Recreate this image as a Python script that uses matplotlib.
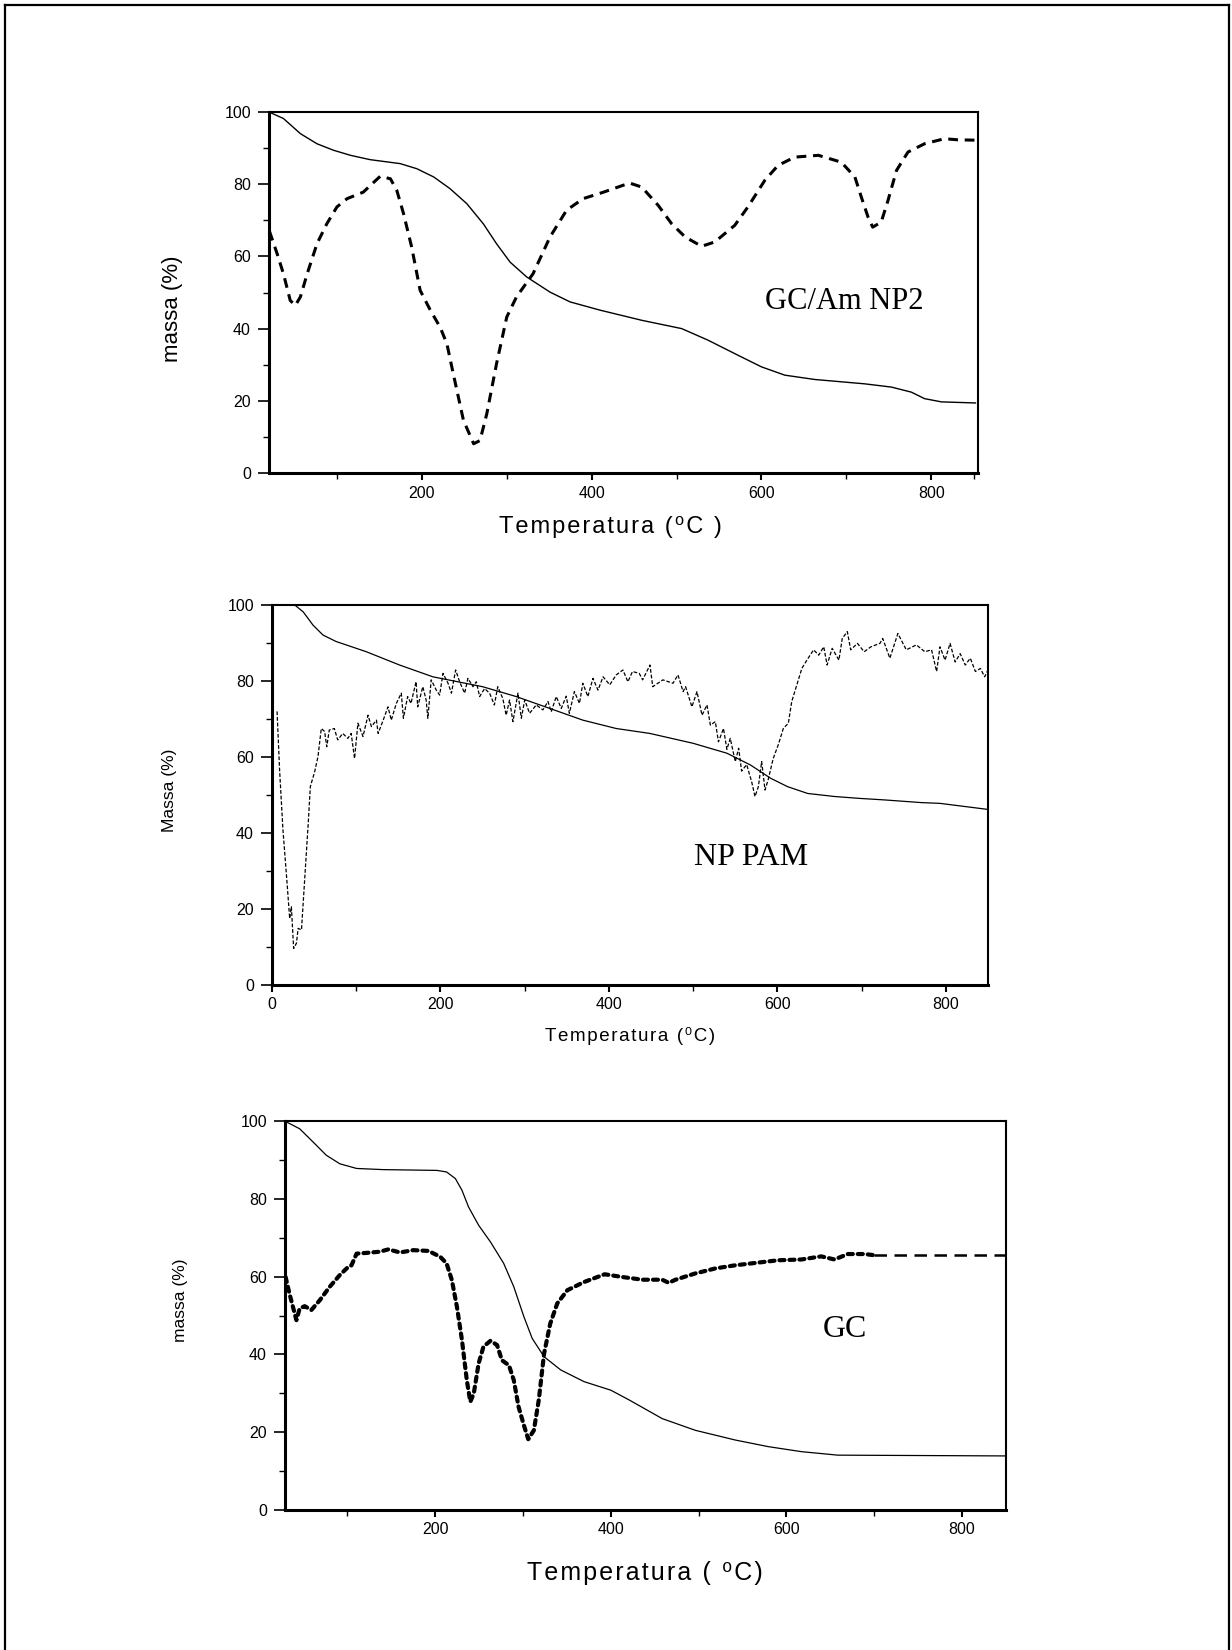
import matplotlib
matplotlib.use("Agg")
import matplotlib.pyplot as plt
from matplotlib.lines import Line2D
from matplotlib.ticker import MultipleLocator, FixedLocator

# ---------------- data ----------------
# Panel 1: GC/Am NP2
np2_tg_x = [20, 37, 57, 76.5, 96, 116, 139, 174.5, 194, 214, 233, 253, 272.5, 288, 304, 323.5, 351,
            374.5, 410, 459, 506, 537, 572.5, 600, 627.5, 663, 721.5, 753, 776.5, 792, 812, 852]
np2_tg_y = [100, 98.2, 94, 91.2, 89.4, 88, 86.8, 85.7, 84.3, 82, 78.8, 74.6, 69, 63.5, 58.4, 54.3, 50.1,
            47.4, 45.1, 42.3, 40, 36.8, 32.6, 29.4, 27.1, 25.9, 24.7, 23.8, 22.4, 20.6, 19.7, 19.4]
np2_dtg_x = [20.5, 29.5, 37, 45, 51, 57, 65, 76.5, 88, 100, 112, 131, 151, 163, 170.5, 178.5, 188, 198,
             210, 221.5, 229.5, 237, 249, 261, 268.5, 276.5, 288, 300, 311.5, 331, 351, 370.5, 390, 414,
             437, 445, 459, 478.5, 494, 510, 529.5, 545, 568.5, 584, 604, 619.5, 639, 667, 694, 710,
             717.5, 725.5, 731, 741, 749, 759, 772.5, 792, 815.5, 831, 851]
np2_dtg_y = [67, 60.8, 55.2, 47.8, 46.4, 48.8, 55.2, 63.5, 69, 73.7, 76, 77.8, 82.2, 81.5, 78.3, 71.8, 62.6,
             50.6, 45.1, 40.4, 35.8, 27.5, 14.6, 8.1, 9, 16.4, 30.3, 43.2, 48.8, 55.2, 65.4, 72.8, 76,
             77.8, 79.7, 80.3, 79.2, 74.1, 69.1, 65.4, 62.8, 64, 68.6, 73.7, 81.1, 85.2, 87.5, 88, 86.1,
             82, 76.5, 70.9, 68.1, 69.5, 75.5, 83.8, 88.9, 91.2, 92.6, 92.3, 92.2]

# Panel 2: NP PAM
pam_tg_x = [0, 27, 37, 48.7, 60.5, 76, 112, 151.5, 191, 250, 290, 329.5, 369, 408.6, 448.6, 500, 540,
            568, 592, 612, 636, 668, 698, 727.5, 771, 793, 850]
pam_tg_y = [100, 100, 98.2, 94.7, 92.1, 90.4, 87.7, 84.2, 81.1, 78.5, 75.9, 72.8, 69.7, 67.5, 66.2, 63.6,
            61, 57.9, 54.4, 52.2, 50.4, 49.6, 49.1, 48.7, 48, 47.8, 46.2]
pam_dtg_x = [6, 9, 13, 17, 21, 23, 25.7, 29, 31, 35, 39, 43, 45.5, 50.6, 54.6, 58.5, 62.5, 65, 68, 74,
             78, 84, 90, 94, 98, 102, 108, 114, 118, 124, 126, 132, 137.7, 141.6, 147.6, 153.5, 156,
             161, 165, 171, 173, 179, 183, 185, 189, 195, 199, 203, 209, 213, 218, 222.7, 228.7, 232.6,
             238.5, 242.5, 246.5, 252.4, 258.3, 264, 268, 274, 278, 282, 286, 292, 296, 300, 305.8,
             313.7, 321.6, 327.6, 331.5, 337.4, 343.4, 349.3, 353, 359, 365, 369, 375, 381, 387, 393,
             401, 408.6, 416.6, 422.5, 428, 436, 440, 448.7, 452, 464, 476, 482, 488, 491, 498.5,
             504.5, 510.5, 516.4, 520.4, 526.3, 530, 536, 540, 544, 550, 554, 557.5, 563.5, 569.4,
             573.4, 577.4, 581.3, 585.3, 589, 595, 601, 607, 613, 617, 623, 629, 635, 643, 649, 655,
             659, 665, 673, 677, 683, 687, 695, 703, 711, 721.7, 725, 733.5, 743, 753, 765, 775, 783,
             789, 793, 799, 805, 811, 817, 823, 829, 835, 841, 846, 850]
pam_dtg_y = [72, 56.6, 40.8, 29.4, 17.5, 20.6, 9.6, 11, 14.9, 14.5, 28.5, 42.5, 52.2, 56.1, 60.1, 67.5,
             66.7, 62.7, 67.1, 67.5, 64.5, 66.2, 64.9, 66.2, 59.6, 68.9, 65.4, 71, 68, 69.7, 66.2, 69.7,
             73.2, 69.7, 74.1, 76.8, 70.2, 75.9, 74.1, 79.8, 73.2, 78.5, 75, 70.2, 80.3, 77.6, 76.3, 82,
             79.4, 76.8, 82.9, 79.8, 76.8, 80.7, 78.5, 79.8, 75.9, 78, 76.8, 73.7, 78.5, 75.4, 71, 75,
             69.3, 76.8, 70.2, 75, 71.5, 73.7, 72.4, 74.6, 71.9, 75.9, 72.8, 76, 71.5, 77.2, 74.1, 79.4,
             75.9, 80.7, 77.6, 81.1, 79, 81.6, 82.9, 79.8, 82.5, 82, 80.3, 84.2, 78.5, 80.3, 79.4, 81.6,
             77.2, 78.5, 73.2, 77.2, 71, 73.7, 68.4, 69.3, 64, 67.5, 62, 64.9, 58.8, 62.3, 56.3, 58,
             53.5, 49.6, 52.2, 58.8, 51.3, 54, 59.6, 63.2, 67.5, 68.9, 74.6, 79, 83.3, 85.5, 88.2, 86.8,
             89, 84.2, 88.6, 85.5, 91.2, 93, 88.2, 89.9, 87.7, 89, 89.9, 91.2, 86, 92.5, 88.2, 89.5,
             87.7, 88.2, 82.5, 89, 85.5, 89.9, 85, 87.2, 84.2, 86, 82.5, 83.3, 81.1, 82.9]

# Panel 3: GC
gc_tg_x = [28.6, 45.7, 61, 76, 91.4, 110.5, 141, 202, 213, 223, 230.5, 238, 249.5, 263, 278, 289.5, 301,
           310.5, 324, 343, 369.5, 400, 420.8, 458.5, 496, 541.5, 579, 617, 658.5, 850]
gc_tg_y = [100, 98, 94.6, 91.2, 89, 87.8, 87.5, 87.3, 86.9, 85.2, 82.2, 77.9, 73.2, 68.9, 63.4, 57.4,
           49.7, 44.1, 39.4, 36, 33, 30.8, 28.3, 23.5, 20.5, 18, 16.3, 15, 14.1, 13.9]
gc_dtg_x = [29.7, 34, 42, 45.7, 51.4, 59, 68.5, 80, 91.4, 101, 104.7, 110.5, 122, 137, 146.7, 160, 175,
            192.4, 205.7, 213, 219, 224.8, 230.5, 236, 240, 244, 249.5, 255, 263, 270.5, 276, 284,
            289.5, 295, 301, 306, 312.4, 318, 324, 331, 339, 350.5, 369.5, 393, 413, 436, 458.5, 466,
            473.6, 496, 519, 541.5, 564, 590.6, 617, 639.6, 654.7, 670, 688.7, 700]
gc_dtg_y = [59.9, 55.7, 48.8, 51.8, 52.4, 51.4, 53.9, 57.4, 60.4, 62.5, 62.9, 65.9, 66.1, 66.4, 67, 66.2,
            66.8, 66.6, 65.1, 63.4, 59.1, 52.2, 43.7, 33.4, 27.8, 30, 37.7, 42, 43.5, 42.4, 38.5, 37.2,
            33.4, 26.5, 21.8, 18.2, 20.5, 28.3, 40.2, 47.9, 53.1, 56.5, 58.6, 60.6, 59.9, 59.2, 59.2,
            58.4, 59.2, 60.8, 62.1, 62.9, 63.5, 64.2, 64.4, 65.2, 64.4, 65.8, 65.8, 65.5]
gc_dtg_tail_x = [700, 850]
gc_dtg_tail_y = [65.5, 65.5]

panel_labels = ["GC/Am NP2", "NP PAM", "GC"]
ylabels = ["massa (%)", "Massa (%)", "massa (%)"]
xlabels = ["Temperatura (\u2070C )", "Temperatura (\u2070C)", "Temperatura ( \u2070C)"]

# ---------------- figure ----------------
plt.rcParams['font.family'] = ['Liberation Sans', 'DejaVu Sans']

W, H = 1232, 1650
fig = plt.figure(figsize=(W / 100, H / 100), dpi=100)


def spaced(s):
    # Origin-style letter spacing using hair spaces between characters
    return "\u200a".join(s)


def box(l, r, t, b):
    return [l / W, 1 - b / H, (r - l) / W, (b - t) / H]


ax1 = fig.add_axes(box(269, 978, 112, 473))
ax2 = fig.add_axes(box(272, 988, 605, 985))
ax3 = fig.add_axes(box(285, 1006, 1121, 1510))


def style(ax, xlim, xmajor, xminor, tick_fs):
    ax.set_xlim(*xlim)
    ax.set_ylim(0, 100)
    ax.yaxis.set_major_locator(MultipleLocator(20))
    ax.yaxis.set_minor_locator(MultipleLocator(10))
    ax.xaxis.set_major_locator(FixedLocator(xmajor))
    ax.xaxis.set_minor_locator(FixedLocator(xminor))
    for s in ['left', 'bottom']:
        ax.spines[s].set_linewidth(2.2)
    for s in ['top', 'right']:
        ax.spines[s].set_linewidth(1.5)
    ax.tick_params(axis='y', which='major', direction='out', length=8, width=1.2, pad=5, labelsize=tick_fs)
    ax.tick_params(axis='y', which='minor', direction='out', length=4.5, width=1.0)
    ax.tick_params(axis='x', which='major', direction='out', length=5, width=1.5, pad=4, labelsize=tick_fs)
    ax.tick_params(axis='x', which='minor', direction='out', length=4, width=1.0)


# Panel 1
ax1.plot(np2_tg_x, np2_tg_y, color='black', lw=1.0)
ax1.plot(np2_dtg_x, np2_dtg_y, color='black', lw=2.2, linestyle=(0, (3.2, 2.2)))
style(ax1, (20, 855), [200, 400, 600, 800], [100, 300, 500, 700, 850], 11.5)
ax1.set_ylabel(ylabels[0], fontsize=16)
ax1.yaxis.set_label_coords(-0.121, 0.454)
ax1.set_xlabel(spaced(xlabels[0]), fontsize=17)
ax1.xaxis.label.set_va('center')
ax1.xaxis.set_label_coords(0.481, -0.150)
ax1.text(0.812, 0.475, panel_labels[0], transform=ax1.transAxes, ha='center', va='center',
         fontsize=22, family='Liberation Serif')

# Panel 2
ax2.plot(pam_tg_x, pam_tg_y, color='black', lw=0.9)
ax2.plot(pam_dtg_x, pam_dtg_y, color='black', lw=0.9, linestyle=(0, (3, 1.5)))
style(ax2, (0, 850), [0, 200, 400, 600, 800], [100, 300, 500, 700], 11.5)
ax2.set_ylabel(ylabels[1], fontsize=12.5)
ax2.yaxis.set_label_coords(-0.133, 0.513)
ax2.set_xlabel(spaced(xlabels[1]), fontsize=13.5)
ax2.xaxis.label.set_va('center')
ax2.xaxis.set_label_coords(0.5, -0.134)
ax2.text(0.669, 0.335, panel_labels[1], transform=ax2.transAxes, ha='center', va='center',
         fontsize=23, family='Liberation Serif')

# Panel 3
ax3.plot(gc_tg_x, gc_tg_y, color='black', lw=0.9)
ax3.plot(gc_dtg_x, gc_dtg_y, color='black', lw=3.0, linestyle=(0, (1.2, 1.2)),
         dash_capstyle='round')
ax3.plot(gc_dtg_tail_x, gc_dtg_tail_y, color='black', lw=1.8, linestyle=(0, (5, 3)))
style(ax3, (29, 850), [200, 400, 600, 800], [100, 300, 500, 700], 11.5)
ax3.set_ylabel(ylabels[2], fontsize=12.5)
ax3.yaxis.set_label_coords(-0.135, 0.538)
ax3.set_xlabel(spaced(xlabels[2]), fontsize=18)
ax3.xaxis.label.set_va('center')
ax3.xaxis.set_label_coords(0.499, -0.162)
ax3.text(0.776, 0.465, panel_labels[2], transform=ax3.transAxes, ha='center', va='center',
         fontsize=23, family='Liberation Serif')

# outer frame (left, top, right)
lx, rx, ty = 4.5 / W, 1228.5 / W, 1 - 4.5 / H
fig.add_artist(Line2D([lx, lx], [0, ty], color='black', lw=1.6, transform=fig.transFigure))
fig.add_artist(Line2D([lx, rx], [ty, ty], color='black', lw=1.6, transform=fig.transFigure))
fig.add_artist(Line2D([rx, rx], [0, ty], color='black', lw=1.6, transform=fig.transFigure))

fig.savefig("out.png", dpi=100)
